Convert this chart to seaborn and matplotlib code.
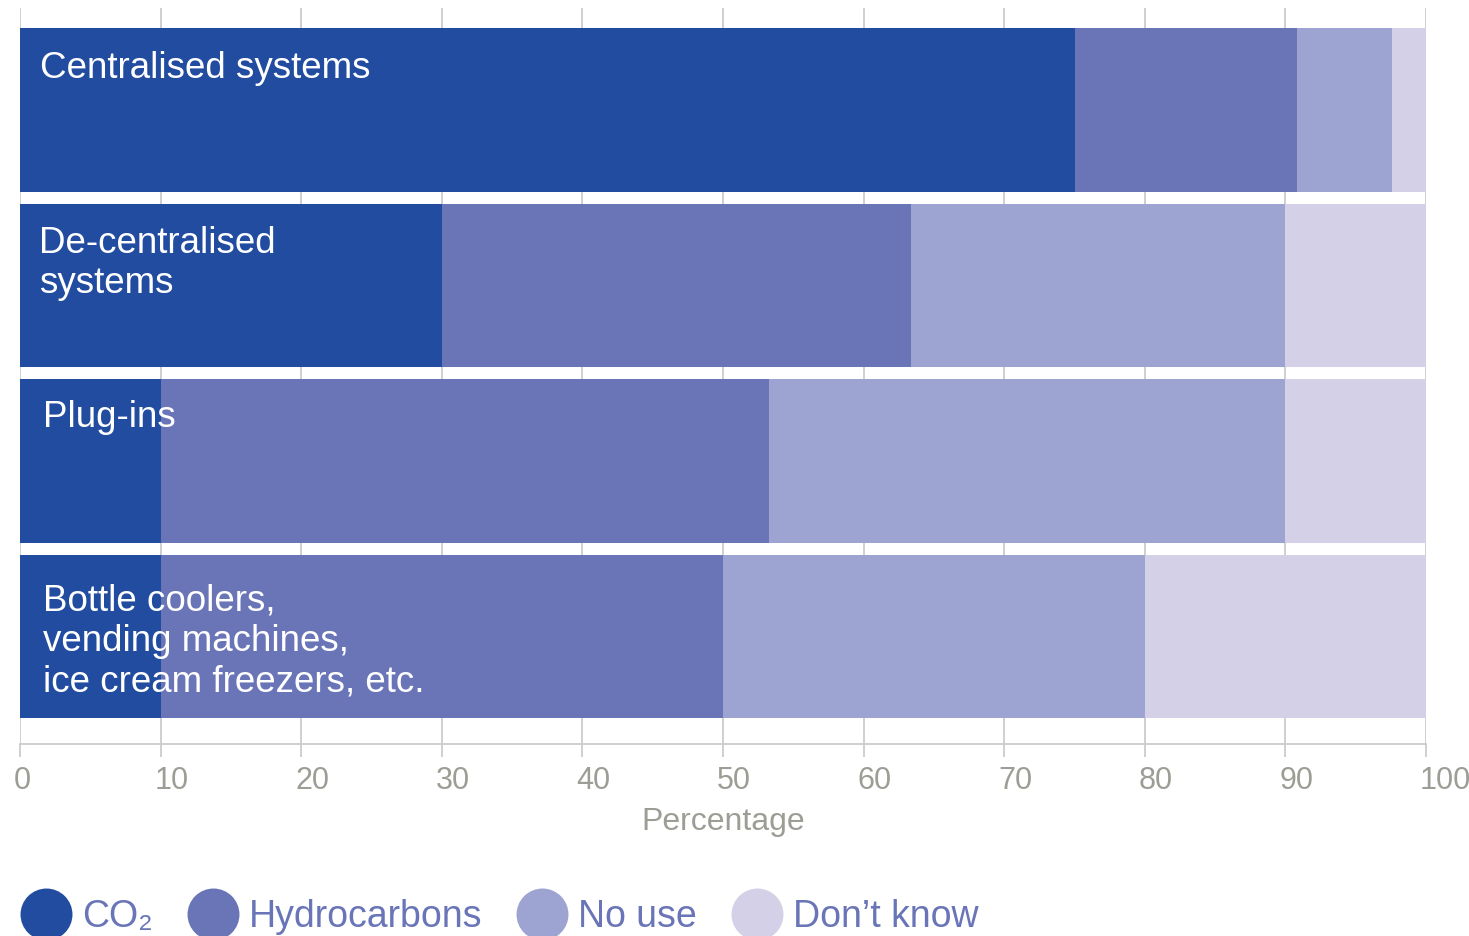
import numpy as np
import pandas as pd
import seaborn as sns
import matplotlib.pyplot as plt
import matplotlib.transforms as mtransforms
from matplotlib.lines import Line2D

categories = ["Centralised systems", "De-centralised\nsystems", "Plug-ins",
              "Bottle coolers,\nvending machines,\nice cream freezers, etc."]
series_names = ["CO₂", "Hydrocarbons", "No use", "Don’t know"]
co2 = [75, 30, 10, 10]
hydrocarbons = [15.8, 33.4, 43.3, 40]
no_use = [6.8, 26.6, 36.7, 30]
dont_know = [2.4, 10, 10, 20]
xticks = [0, 10, 20, 30, 40, 50, 60, 70, 80, 90, 100]

colors = ["#214ca0", "#6a75b8", "#9da4d2", "#d4d0e7"]
gray_text = "#9d9d96"
grid_gray = "#cccccc"

sns.set_style("white")
plt.rcParams['font.family'] = ['Liberation Sans', 'DejaVu Sans']

df = pd.DataFrame({"category": categories, "CO₂": co2, "Hydrocarbons": hydrocarbons,
                   "No use": no_use, "Don’t know": dont_know})
cum = df[series_names].cumsum(axis=1)
cum["category"] = df["category"]

fig = plt.figure(figsize=(14.69, 9.36), dpi=100)
ax = fig.add_axes([20 / 1469, 1 - 744 / 936, 1406 / 1469, 736 / 936])

bar_w = 0.934
# stacked: draw the longest cumulative bar first, shorter ones over it
for name, c in zip(series_names[::-1], colors[::-1]):
    sns.barplot(data=cum, x=name, y="category", color=c, width=bar_w,
                orient="h", ax=ax, zorder=3, linewidth=0, saturation=1)

ax.set_xlim(0, 100)
ax.set_ylim(3.6125, -0.581)
ax.set_axisbelow(True)
ax.grid(axis="x", color=grid_gray, lw=1.3, zorder=0)
ax.grid(axis="y", visible=False)
ax.set_yticks([])
ax.set_ylabel("")
for s in ["top", "left", "right"]:
    ax.spines[s].set_visible(False)
ax.spines["bottom"].set_color(grid_gray)
ax.spines["bottom"].set_linewidth(1.3)

ax.set_xticks(xticks)
ax.set_xticklabels([str(t) for t in xticks], color=gray_text, fontsize=22, ha="left")
ax.tick_params(axis="x", length=9, width=1.3, color=grid_gray, pad=7, bottom=True)
offset = mtransforms.ScaledTranslation(-6 / 100, 0, fig.dpi_scale_trans)
for lab in ax.get_xticklabels():
    lab.set_transform(lab.get_transform() + offset)
ax.set_xlabel("Percentage", color=gray_text, fontsize=23, labelpad=8)

label_dx = [20, 19, 23, 23]
label_dy = [23, 22, 21, 29]
for i, cat in enumerate(categories):
    ax.annotate(cat, xy=(0, i - bar_w / 2), xytext=(label_dx[i], -label_dy[i]),
                textcoords="offset pixels", color="white", fontsize=26.5,
                va="top", ha="left", linespacing=1.2, zorder=5)

handles = [Line2D([], [], marker="o", ls="", markersize=37.4, color=c,
                  markeredgewidth=0) for c in colors]
fig.legend(handles, series_names, loc="center left", bbox_to_anchor=(20 / 1469, 1 - 917 / 936),
           ncol=4, frameon=False, borderpad=0, borderaxespad=0,
           handlelength=1.39, handletextpad=0.27, columnspacing=0.9,
           labelcolor="#6a75b8",
           prop={"family": ["Liberation Sans", "DejaVu Sans"], "size": 27})

fig.savefig("out.png", dpi=100)
